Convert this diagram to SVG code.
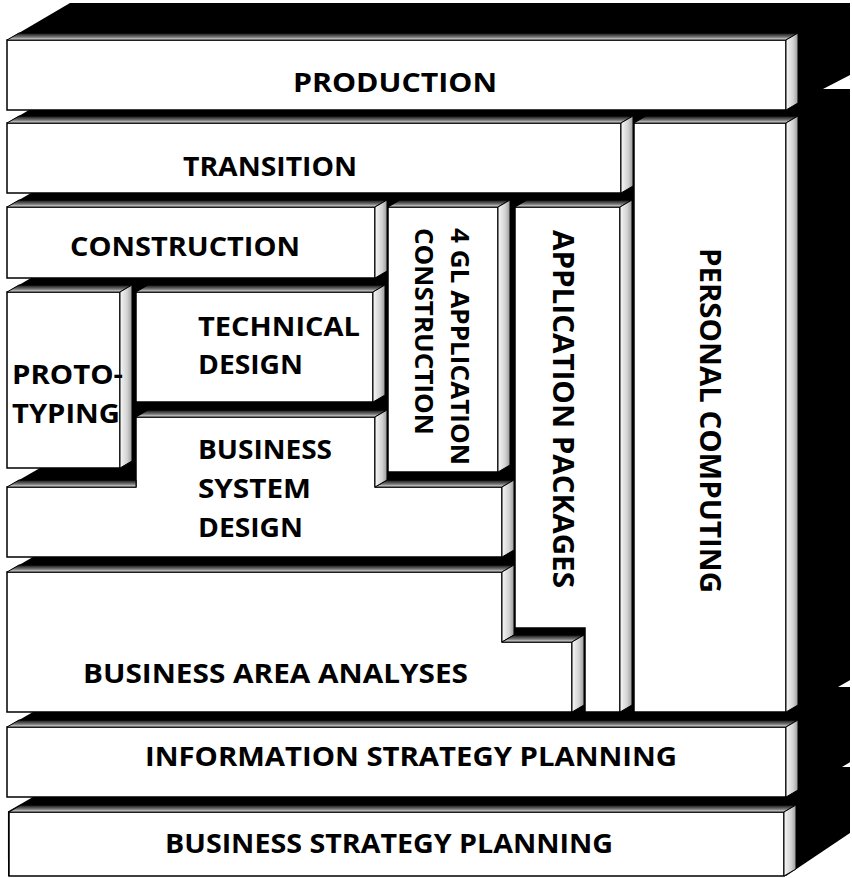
<svg xmlns="http://www.w3.org/2000/svg" width="852" height="878" viewBox="0 0 852 878">
<defs>
<linearGradient id="gTop" x1="0" y1="0" x2="0" y2="1">
<stop offset="0" stop-color="#111"/>
<stop offset="0.6" stop-color="#7a7a7a"/>
<stop offset="1" stop-color="#f2f2f2"/>
</linearGradient>
<linearGradient id="gSide" x1="0" y1="0" x2="1" y2="0">
<stop offset="0" stop-color="#f7f7f7"/>
<stop offset="0.6" stop-color="#d2d2d2"/>
<stop offset="1" stop-color="#9a9a9a"/>
</linearGradient>
<style>
.front{fill:#fff;stroke:#000;stroke-width:1.5;stroke-linejoin:miter}
.top{fill:url(#gTop);stroke:#000;stroke-width:1}
.side{fill:url(#gSide);stroke:#000;stroke-width:1}
.lbl{font-family:"Open Sans","Liberation Sans",sans-serif;font-weight:700;font-size:27.5px;fill:#000}
.vl{font-size:28px}
.vs{font-size:25px}
.gap{fill:#fff}
</style>
</defs>
<rect width="852" height="878" fill="#fff"/>
<g id="backdrop">
<polygon points="7,40 70,3 850,3 850,833 786,876 8,876" fill="#000"/>
<polygon class="gap" points="0,110 29,110 7,123 0,123"/>
<polygon class="gap" points="0,193 31,193 7,207 0,207"/>
<polygon class="gap" points="0,278 31,278 7,292 0,292"/>
<polygon class="gap" points="0,468 40,468 7,487 0,487"/>
<polygon class="gap" points="0,557 33,557 7,572 0,572"/>
<polygon class="gap" points="0,712 33,712 7,727 0,727"/>
<polygon class="gap" points="0,797 33,797 7,812 0,812"/>
<polygon class="gap" points="823,89 852,74 852,89"/>
<polygon class="gap" points="838,687 852,679 852,687"/>
<polygon class="gap" points="842,767 852,761 852,767"/>
</g>
<g id="production">
<rect class="front" x="7" y="40" width="779" height="70"/>
<polygon class="top" points="7,40 19,33 798,33 786,40"/>
<polygon class="side" points="786,40 798,33 798,103 786,110"/>
<text class="lbl" x="293" y="92" textLength="204" lengthAdjust="spacingAndGlyphs">PRODUCTION</text>
</g>
<g id="transition">
<rect class="front" x="7" y="123" width="614" height="70"/>
<polygon class="top" points="7,123 19,116 633,116 621,123"/>
<polygon class="side" points="621,123 633,116 633,186 621,193"/>
<text class="lbl" x="183" y="176" textLength="174" lengthAdjust="spacingAndGlyphs">TRANSITION</text>
</g>
<g id="personal-computing">
<rect class="front" x="634" y="123" width="152" height="589"/>
<polygon class="top" points="634,123 646,116 798,116 786,123"/>
<polygon class="side" points="786,123 798,116 798,705 786,712"/>
<text class="lbl vl" transform="translate(700,248) rotate(90)" textLength="345" lengthAdjust="spacingAndGlyphs">PERSONAL COMPUTING</text>
</g>
<g id="construction">
<rect class="front" x="7" y="207" width="368" height="71"/>
<polygon class="top" points="7,207 19,200 387,200 375,207"/>
<polygon class="side" points="375,207 387,200 387,271 375,278"/>
<text class="lbl" x="70" y="256" textLength="230" lengthAdjust="spacingAndGlyphs">CONSTRUCTION</text>
</g>
<g id="gl4-application-construction">
<rect class="front" x="388" y="207" width="110" height="265"/>
<polygon class="top" points="388,207 400,200 510,200 498,207"/>
<polygon class="side" points="498,207 510,200 510,465 498,472"/>
<text class="lbl vs" transform="translate(451,228) rotate(90)" textLength="237" lengthAdjust="spacingAndGlyphs">4 GL APPLICATION</text>
<text class="lbl vs" transform="translate(415,228) rotate(90)" textLength="207" lengthAdjust="spacingAndGlyphs">CONSTRUCTION</text>
</g>
<g id="application-packages">
<polygon class="front" points="515,207 620,207 620,712 585,712 585,628 515,628"/>
<polygon class="top" points="515,207 527,200 632,200 620,207"/>
<polygon class="side" points="620,207 632,200 632,705 620,712"/>
<text class="lbl vl" transform="translate(553,230) rotate(90)" textLength="358" lengthAdjust="spacingAndGlyphs">APPLICATION PACKAGES</text>
</g>
<g id="prototyping">
<rect class="front" x="7" y="292" width="113" height="176"/>
<polygon class="top" points="7,292 19,285 132,285 120,292"/>
<polygon class="side" points="120,292 132,285 132,461 120,468"/>
<text class="lbl" x="12" y="384" textLength="111" lengthAdjust="spacingAndGlyphs">PROTO-</text>
<text class="lbl" x="12" y="423" textLength="108" lengthAdjust="spacingAndGlyphs">TYPING</text>
</g>
<g id="technical-design">
<rect class="front" x="136" y="292" width="237" height="110"/>
<polygon class="top" points="136,292 148,285 385,285 373,292"/>
<polygon class="side" points="373,292 385,285 385,395 373,402"/>
<text class="lbl" x="198" y="336" textLength="162" lengthAdjust="spacingAndGlyphs">TECHNICAL</text>
<text class="lbl" x="198" y="374" textLength="105" lengthAdjust="spacingAndGlyphs">DESIGN</text>
</g>
<g id="business-system-design">
<polygon class="front" points="136,417 375,417 375,487 502,487 502,557 7,557 7,487 136,487"/>
<polygon class="top" points="136,417 148,410 387,410 375,417"/>
<polygon class="top" points="375,487 387,480 514,480 502,487"/>
<polygon class="top" points="7,487 19,480 136,480 136,487"/>
<polygon class="side" points="375,417 387,410 387,480 375,487"/>
<polygon class="side" points="502,487 514,480 514,550 502,557"/>
<text class="lbl" x="198" y="459" textLength="134" lengthAdjust="spacingAndGlyphs">BUSINESS</text>
<text class="lbl" x="198" y="498" textLength="113" lengthAdjust="spacingAndGlyphs">SYSTEM</text>
<text class="lbl" x="198" y="537" textLength="105" lengthAdjust="spacingAndGlyphs">DESIGN</text>
</g>
<g id="business-area-analyses">
<polygon class="front" points="7,572 502,572 502,642 572,642 572,712 7,712"/>
<polygon class="top" points="7,572 19,565 514,565 502,572"/>
<polygon class="side" points="502,572 514,565 514,635 502,642"/>
<polygon class="top" points="502,642 514,635 584,635 572,642"/>
<polygon class="side" points="572,642 584,635 584,705 572,712"/>
<text class="lbl" x="83" y="683" textLength="385" lengthAdjust="spacingAndGlyphs">BUSINESS AREA ANALYSES</text>
</g>
<g id="information-strategy-planning">
<rect class="front" x="7" y="727" width="779" height="70"/>
<polygon class="top" points="7,727 19,720 798,720 786,727"/>
<polygon class="side" points="786,727 798,720 798,790 786,797"/>
<text class="lbl" x="145" y="766" textLength="532" lengthAdjust="spacingAndGlyphs">INFORMATION STRATEGY PLANNING</text>
</g>
<g id="business-strategy-planning">
<rect class="front" x="9" y="812" width="775" height="64"/>
<polygon class="top" points="9,812 21,805 796,805 784,812"/>
<polygon class="side" points="784,812 796,805 796,869 784,876"/>
<text class="lbl" x="165" y="853" textLength="448" lengthAdjust="spacingAndGlyphs">BUSINESS STRATEGY PLANNING</text>
</g>
</svg>
